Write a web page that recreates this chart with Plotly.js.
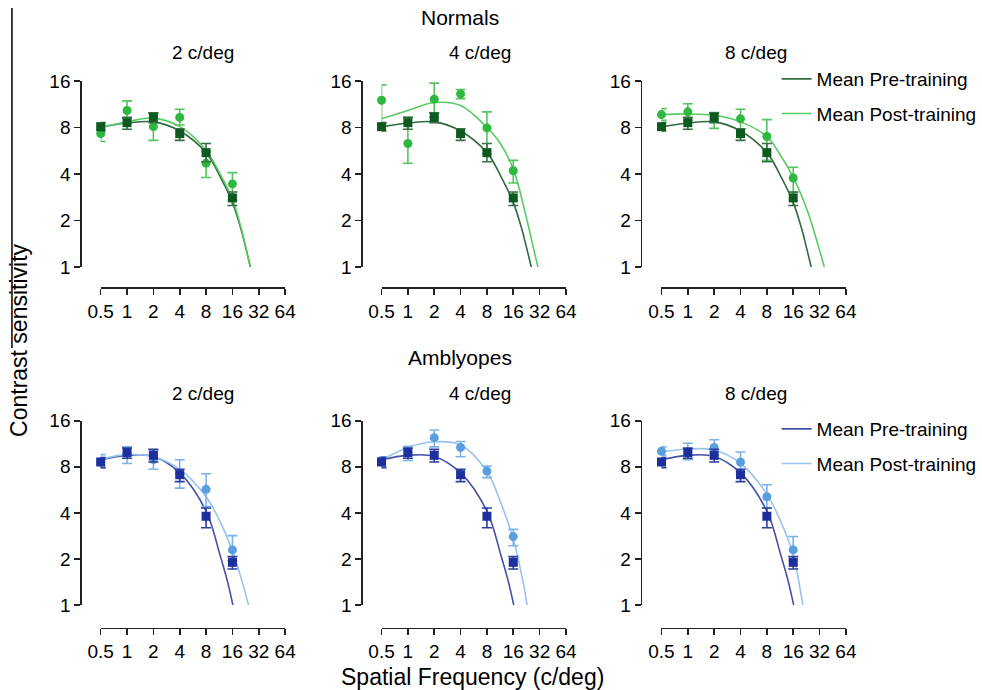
<!DOCTYPE html>
<html>
<head>
<meta charset="utf-8">
<script src="https://cdn.plot.ly/plotly-3.0.1.min.js"></script>
<style>html,body{margin:0;padding:0;background:#fff;}#chart{width:982px;height:690px;}</style>
</head>
<body>
<div id="chart"></div>
<script>
// ---------- data ----------
const freqs = [0.5, 1, 2, 4, 8, 16];
const xTickVals = [0.5, 1, 2, 4, 8, 16, 32, 64];
const xTickText = ['0.5', '1', '2', '4', '8', '16', '32', '64'];
const yTickVals = [1, 2, 4, 8, 16];
const yTickText = ['1', '2', '4', '8', '16'];
const panelTitles = ['2 c/deg', '4 c/deg', '8 c/deg'];
const groupTitles = ['Normals', 'Amblyopes'];
const legendNames = ['Mean Pre-training', 'Mean Post-training'];

// Normals, pre-training (same in the three panels)
const normPre      = [8.1, 8.6, 9.3, 7.3, 5.5, 2.8];
const normPreUpper = [8.6, 9.3, 9.95, 7.85, 6.3, 3.06];
const normPreLower = [7.6, 7.8, 8.6, 6.6, 4.8, 2.5];
// Normals, post-training per panel
const normPost2      = [7.3, 10.3, 8.1, 9.3, 4.7, 3.45];
const normPost2Upper = [7.9, 11.9, 9.9, 10.5, 5.6, 4.08];
const normPost2Lower = [6.5, 9.2, 6.6, 8.3, 3.8, 2.7];
const normPost4      = [12.0, 6.3, 12.2, 13.2, 7.95, 4.2];
const normPost4Upper = [15.1, 9.3, 15.5, 14.1, 10.1, 4.9];
const normPost4Lower = [8.5, 4.7, 9.3, 12.3, 5.4, 3.5];
const normPost8      = [9.7, 10.1, 9.2, 9.1, 7.0, 3.77];
const normPost8Upper = [10.6, 11.4, 10.0, 10.5, 9.0, 4.42];
const normPost8Lower = [8.9, 8.9, 7.9, 7.8, 4.9, 3.04];

// Amblyopes, pre-training (same in the three panels)
const amblPre      = [8.6, 9.9, 9.5, 7.1, 3.8, 1.9];
const amblPreUpper = [9.2, 10.6, 10.4, 7.7, 4.3, 2.07];
const amblPreLower = [7.9, 9.1, 8.6, 6.4, 3.2, 1.72];
// Amblyopes, post-training per panel
const amblPost2      = [8.6, 9.8, 8.9, 7.2, 5.7, 2.29];
const amblPost2Upper = [9.6, 10.8, 10.3, 8.9, 7.2, 2.84];
const amblPost2Lower = [7.9, 8.4, 7.7, 5.8, 4.4, 1.95];
const amblPost4      = [8.8, 9.9, 12.4, 10.7, 7.5, 2.8];
const amblPost4Upper = [9.3, 10.9, 13.9, 11.7, 8.1, 3.12];
const amblPost4Lower = [8.1, 8.8, 10.8, 9.3, 6.8, 2.44];
const amblPost8      = [10.1, 10.0, 10.7, 8.6, 5.1, 2.29];
const amblPost8Upper = [10.8, 11.4, 12.0, 10.0, 6.1, 2.8];
const amblPost8Lower = [9.5, 8.9, 9.5, 7.4, 4.3, 1.97];

// Fitted curves, points
const normPreFitF   = [0.5, 1, 2, 4, 8, 11.7, 16, 19.8, 22.5, 25.7];
const normPreFitS   = [8.05, 8.55, 8.7, 7.6, 5.5, 3.81, 2.62, 1.8, 1.36, 1.0];
const normPost2FitF = [0.5, 1, 2, 4, 8, 11.7, 16, 19.8, 22.5, 25.4];
const normPost2FitS = [8.0, 8.7, 9.2, 8.1, 5.7, 3.95, 2.75, 1.85, 1.38, 1.0];
const normPost4FitF = [0.5, 1, 2, 4, 8, 11.2, 16, 23.0, 26.9, 30.6];
const normPost4FitS = [9.1, 10.3, 11.6, 11.1, 8.0, 6.4, 4.3, 2.0, 1.36, 1.0];
const normPost8FitF = [0.5, 1, 2, 4, 8, 11.3, 16, 23.4, 29.1, 36.3];
const normPost8FitS = [9.7, 9.8, 9.6, 8.7, 7.0, 5.35, 3.8, 2.29, 1.54, 1.0];

const amblPreFitF   = [0.5, 1, 2, 4, 8, 11.6, 13.9, 16.2];
const amblPreFitS   = [8.9, 9.5, 9.35, 7.3, 4.1, 2.1, 1.46, 1.0];
const amblPost2FitF = [0.5, 1, 2, 4, 8, 11.3, 16, 20.9, 24.4];
const amblPost2FitS = [8.94, 9.64, 9.3, 7.7, 5.1, 3.6, 2.25, 1.39, 1.0];
const amblPost4FitF = [0.5, 1, 2, 4, 8, 11.6, 16, 20.5, 23];
const amblPost4FitS = [8.86, 10.7, 11.65, 11.1, 7.45, 4.6, 2.7, 1.46, 1.0];
const amblPost8FitF = [0.5, 1, 2, 4, 8, 11.3, 16, 18.4, 20.6];
const amblPost8FitS = [10.0, 10.45, 10.3, 8.42, 5.3, 3.6, 2.15, 1.46, 1.0];

// ---------- styles ----------
const FONT = 'Liberation Sans, Arial, Helvetica, sans-serif';
const styles = [
  { // Normals
    preMarker: '#0c5a20', postMarker: '#2fb83f',
    preFit: '#2f6b3c', postFit: '#58cc62',
    preErr: '#3a6d44', postErr: '#55c45f'
  },
  { // Amblyopes
    preMarker: '#1d2f9c', postMarker: '#5a9ee0',
    preFit: '#4350a8', postFit: '#96c3f0',
    preErr: '#2c3c9e', postErr: '#7cb1e8'
  }
];

const rows = [
  {
    pre: normPre, preUp: normPreUpper, preLo: normPreLower,
    preFitF: normPreFitF, preFitS: normPreFitS,
    post: [normPost2, normPost4, normPost8],
    postUp: [normPost2Upper, normPost4Upper, normPost8Upper],
    postLo: [normPost2Lower, normPost4Lower, normPost8Lower],
    postFitF: [normPost2FitF, normPost4FitF, normPost8FitF],
    postFitS: [normPost2FitS, normPost4FitS, normPost8FitS]
  },
  {
    pre: amblPre, preUp: amblPreUpper, preLo: amblPreLower,
    preFitF: amblPreFitF, preFitS: amblPreFitS,
    post: [amblPost2, amblPost4, amblPost8],
    postUp: [amblPost2Upper, amblPost4Upper, amblPost8Upper],
    postLo: [amblPost2Lower, amblPost4Lower, amblPost8Lower],
    postFitF: [amblPost2FitF, amblPost4FitF, amblPost8FitF],
    postFitS: [amblPost2FitS, amblPost4FitS, amblPost8FitS]
  }
];

// ---------- layout geometry (pixels -> paper) ----------
const W = 982, H = 690;
const px = v => v / W;
const py = v => 1 - v / H;
const colX = [[101, 286], [382.7, 567.7], [663.5, 848.5]];
const colYAxisPos = [80.5, 362.5, 642.7];
const rowY = [[81, 267], [420.7, 605]];
const rowXAxisPos = [287.3, 627.7];

const plus = (up, v) => up.map((u, i) => +(u - v[i]).toFixed(3));
const minus = (lo, v) => lo.map((l, i) => +(v[i] - l).toFixed(3));

const traces = [];
const layout = {
  width: W, height: H,
  margin: { l: 0, r: 0, t: 0, b: 0 },
  paper_bgcolor: '#ffffff', plot_bgcolor: 'rgba(0,0,0,0)',
  font: { family: FONT, color: '#000', size: 19 },
  showlegend: true,
  annotations: [], shapes: []
};

for (let r = 0; r < 2; r++) {
  const d = rows[r], s = styles[r];
  for (let c = 0; c < 3; c++) {
    const idx = r * 3 + c + 1;
    const xa = 'x' + (idx === 1 ? '' : idx), ya = 'y' + (idx === 1 ? '' : idx);
    const xKey = 'xaxis' + (idx === 1 ? '' : idx), yKey = 'yaxis' + (idx === 1 ? '' : idx);
    layout[xKey] = {
      type: 'log', domain: [px(colX[c][0]), px(colX[c][1])],
      range: [Math.log10(0.5), Math.log10(64)],
      anchor: 'free', position: py(rowXAxisPos[r]),
      tickmode: 'array', tickvals: xTickVals, ticktext: xTickText,
      ticks: 'outside', ticklen: 6, tickwidth: 1.6, tickcolor: '#222',
      showline: true, linecolor: '#222', linewidth: 1.6,
      showgrid: false, zeroline: false,
      tickfont: { family: FONT, size: 19, color: '#000' }
    };
    layout[yKey] = {
      type: 'log', domain: [py(rowY[r][1]), py(rowY[r][0])],
      range: [0, Math.log10(16)],
      anchor: 'free', position: px(colYAxisPos[c]),
      tickmode: 'array', tickvals: yTickVals, ticktext: yTickText,
      ticks: 'outside', ticklen: 6, tickwidth: 1.6, tickcolor: '#222',
      showline: true, linecolor: '#222', linewidth: 1.6,
      showgrid: false, zeroline: false,
      tickfont: { family: FONT, size: 19, color: '#000' }
    };
    const inLegend = (c === 2);
    const legendId = r === 0 ? 'legend' : 'legend2';
    // fitted curves
    traces.push({
      type: 'scatter', mode: 'lines', xaxis: xa, yaxis: ya,
      x: d.preFitF, y: d.preFitS, name: legendNames[0],
      line: { color: s.preFit, width: 1.6, shape: 'spline', smoothing: 1 },
      showlegend: inLegend, legend: legendId, legendgroup: 'pre' + r, hoverinfo: 'skip'
    });
    traces.push({
      type: 'scatter', mode: 'lines', xaxis: xa, yaxis: ya,
      x: d.postFitF[c], y: d.postFitS[c], name: legendNames[1],
      line: { color: s.postFit, width: 1.6, shape: 'spline', smoothing: 1 },
      showlegend: inLegend, legend: legendId, legendgroup: 'post' + r, hoverinfo: 'skip'
    });
    // post markers
    traces.push({
      type: 'scatter', mode: 'markers', xaxis: xa, yaxis: ya, cliponaxis: false,
      x: freqs, y: d.post[c], showlegend: false,
      marker: { symbol: 'circle', size: 9, color: s.postMarker },
      error_y: { type: 'data', symmetric: false,
        array: plus(d.postUp[c], d.post[c]), arrayminus: minus(d.postLo[c], d.post[c]),
        color: s.postErr, thickness: 1.6, width: 5 }
    });
    // pre markers
    traces.push({
      type: 'scatter', mode: 'markers', xaxis: xa, yaxis: ya, cliponaxis: false,
      x: freqs, y: d.pre, showlegend: false,
      marker: { symbol: 'square', size: 9, color: s.preMarker },
      error_y: { type: 'data', symmetric: false,
        array: plus(d.preUp, d.pre), arrayminus: minus(d.preLo, d.pre),
        color: s.preErr, thickness: 1.6, width: 5 }
    });
  }
}

const legendCommon = {
  xanchor: 'left', yanchor: 'top', bgcolor: 'rgba(0,0,0,0)', borderwidth: 0,
  font: { family: FONT, size: 19, color: '#000' },
  traceorder: 'grouped', tracegroupgap: 7, itemwidth: 30, itemclick: false
};
layout.legend = Object.assign({}, legendCommon, { x: px(779), y: py(60) });
layout.legend2 = Object.assign({}, legendCommon, { x: px(779), y: py(410) });

const ann = (text, x, y, size, extra) => Object.assign({
  text: text, x: px(x), y: py(y), xref: 'paper', yref: 'paper',
  xanchor: 'center', yanchor: 'middle', showarrow: false,
  font: { family: FONT, size: size, color: '#000' }
}, extra || {});

layout.annotations.push(ann(groupTitles[0], 461, 18, 21));
layout.annotations.push(ann(groupTitles[1], 461, 357, 21));
const titleX = [204, 481, 758];
for (let c = 0; c < 3; c++) {
  layout.annotations.push(ann(panelTitles[c], titleX[c], 53, 19));
  layout.annotations.push(ann(panelTitles[c], titleX[c], 393, 19));
}
layout.annotations.push(ann('Contrast sensitivity', 19, 340, 23, { textangle: -90 }));
layout.annotations.push(ann('Spatial Frequency (c/deg)', 474, 677, 23));

layout.shapes.push({
  type: 'line', xref: 'paper', yref: 'paper',
  x0: px(12), x1: px(12), y0: py(8), y1: py(348),
  line: { color: '#000', width: 1.5 }
});

Plotly.newPlot('chart', traces, layout, { staticPlot: true, displayModeBar: false });
</script>
</body>
</html>
